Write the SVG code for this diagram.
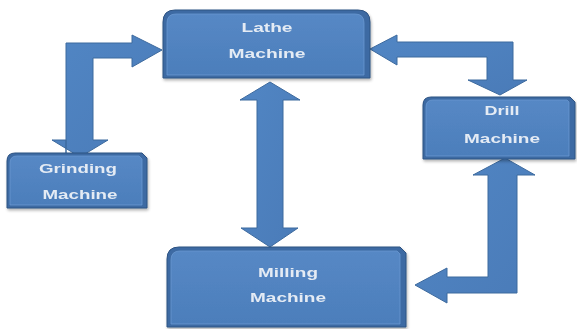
<svg xmlns="http://www.w3.org/2000/svg" width="577" height="329" viewBox="0 0 577 329">
<defs>
<linearGradient id="boxg" x1="0" y1="0" x2="0" y2="1">
<stop offset="0" stop-color="#5688c5"/>
<stop offset="1" stop-color="#4c7ebb"/>
</linearGradient>
<linearGradient id="arrg" x1="0" y1="0" x2="1" y2="1">
<stop offset="0" stop-color="#5186c4"/>
<stop offset="1" stop-color="#4a7bb8"/>
</linearGradient>
<filter id="sh" x="-10%" y="-10%" width="125%" height="130%">
<feGaussianBlur in="SourceAlpha" stdDeviation="1.5"/>
<feOffset dx="1" dy="2" result="b"/>
<feComponentTransfer><feFuncA type="linear" slope="0.3"/></feComponentTransfer>
<feMerge><feMergeNode/><feMergeNode in="SourceGraphic"/></feMerge>
</filter>
</defs>
<style>
.outer{fill:#3d6aa3;stroke:#2d5282;stroke-width:1}
.inner{fill:url(#boxg);stroke:#6a98d0;stroke-width:0.8}
.arrow{fill:url(#arrg);stroke:#3d6a9e;stroke-width:1;stroke-linejoin:miter}
.lbl{font-family:"Liberation Sans",Arial,sans-serif;font-weight:bold;font-size:13px;fill:#e4ebf4;text-anchor:middle}
</style>
<rect width="577" height="329" fill="#ffffff"/>
<g id="connectors">
<path class="arrow" d="M66,157 V43 H132 V35 L162,50 L132,67 V58 H93 V140 H108 L80,157 L52,140 H66 Z"/>
<path class="arrow" d="M270,82 L300,100 H283 V228 H298 L270,247 L241,228 H257 V100 H240 Z"/>
<path class="arrow" d="M370,49 L397,35 V42 H513 V80 H527 L500,95 L468,80 H487 V57 H397 V65 Z"/>
<path class="arrow" d="M505,158 L535,175 H517 V293 H447 V303 L415,285 L447,268 V277 H488 V175 H473 Z"/>
</g>
<g id="lathe" filter="url(#sh)">
<path class="outer" d="M163,78 V22 Q163,10 175,10 H358 Q370,10 370,22 V78 Z"/>
<path class="inner" d="M167,75 V23 Q167,14 176,14 H355 Q364,14 364,23 V75 Z"/>
<text class="lbl" x="267" y="32" textLength="51" lengthAdjust="spacingAndGlyphs">Lathe</text>
<text class="lbl" x="267" y="58" textLength="77" lengthAdjust="spacingAndGlyphs">Machine</text>
</g>
<g id="grinding" filter="url(#sh)">
<path class="outer" d="M7,208 V161 Q7,153 15,153 H142 L147,158 V208 Z"/>
<path class="inner" d="M10,205 V163 Q10,156 17,156 H139 L142,159 V205 Z"/>
<text class="lbl" x="78" y="173" textLength="78" lengthAdjust="spacingAndGlyphs">Grinding</text>
<text class="lbl" x="80" y="199" textLength="75" lengthAdjust="spacingAndGlyphs">Machine</text>
</g>
<g id="drill" filter="url(#sh)">
<path class="outer" d="M423,159 V105 Q423,97 431,97 H570 L575,102 V159 Z"/>
<path class="inner" d="M426,156 V107 Q426,100 433,100 H567 L569,102 V156 Z"/>
<text class="lbl" x="502" y="115" textLength="35" lengthAdjust="spacingAndGlyphs">Drill</text>
<text class="lbl" x="502" y="143" textLength="76" lengthAdjust="spacingAndGlyphs">Machine</text>
</g>
<g id="milling" filter="url(#sh)">
<path class="outer" d="M167,327 V259 Q167,247 179,247 H400 L406,253 V327 Z"/>
<path class="inner" d="M171,324 V260 Q171,251 180,251 H397 L400,254 V324 Z"/>
<text class="lbl" x="288" y="277" textLength="60" lengthAdjust="spacingAndGlyphs">Milling</text>
<text class="lbl" x="288" y="302" textLength="76" lengthAdjust="spacingAndGlyphs">Machine</text>
</g>
</svg>
